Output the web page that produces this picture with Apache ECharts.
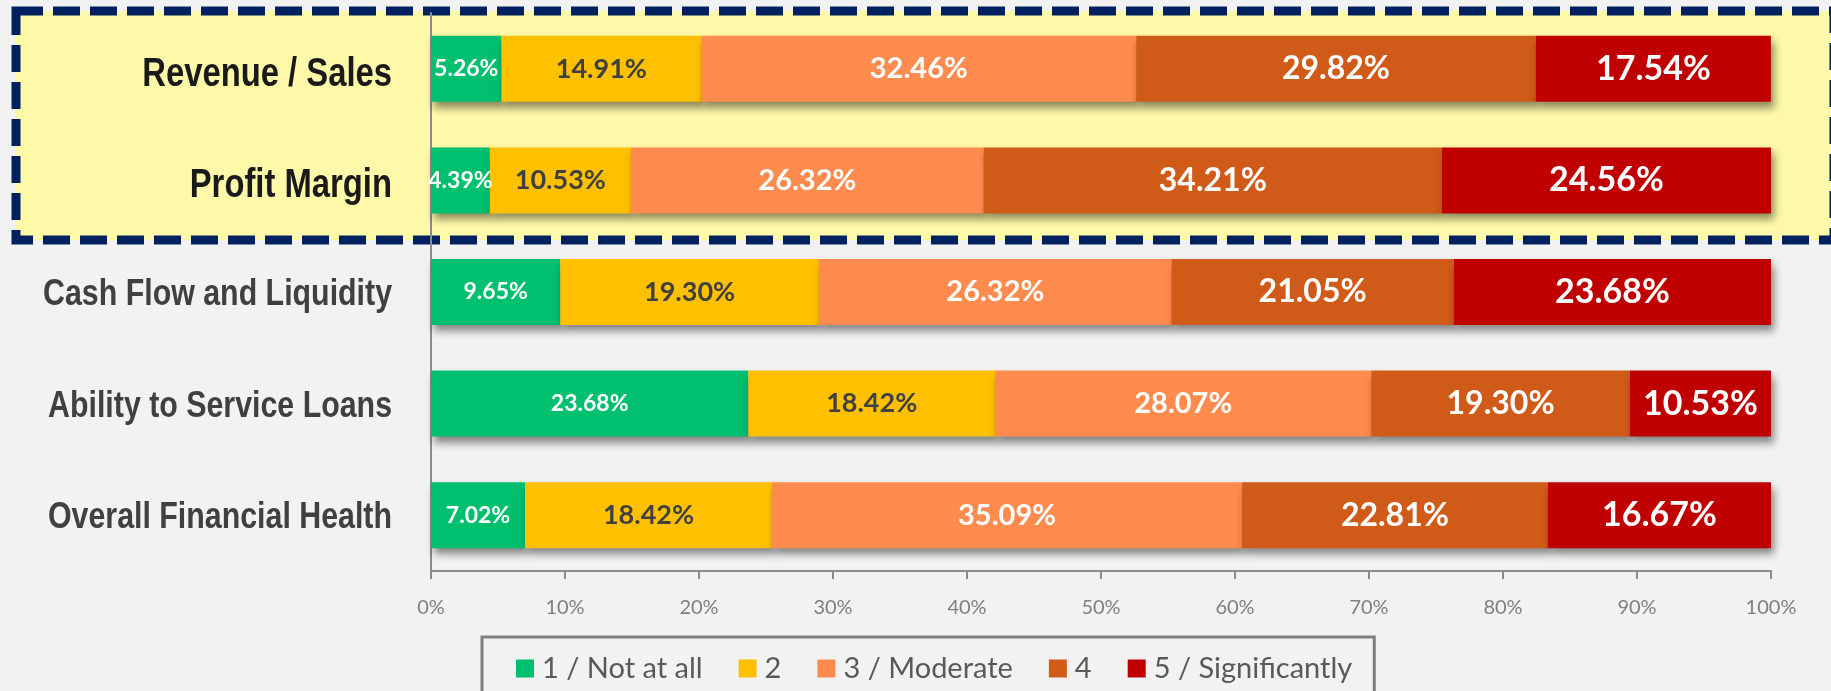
<!DOCTYPE html>
<html>
<head>
<meta charset="utf-8">
<script src="https://cdn.jsdelivr.net/npm/echarts@6/dist/echarts.min.js"></script>
<style>
  html, body { margin: 0; padding: 0; background: #f2f2f2; }
  #chart { width: 1831px; height: 691px; }
</style>
</head>
<body>
<div id="chart"></div>
<script>
// Impact ratings per area, % of respondents (stacked to 100%)
const categories = ['Revenue / Sales', 'Profit Margin', 'Cash Flow and Liquidity', 'Ability to Service Loans', 'Overall Financial Health'];
const seriesNames = ['1 / Not at all', '2', '3 / Moderate', '4', '5 / Significantly'];
const notAtAll      = [5.26, 4.39, 9.65, 23.68, 7.02];
const level2        = [14.91, 10.53, 19.30, 18.42, 18.42];
const moderate      = [32.46, 26.32, 26.32, 28.07, 35.09];
const level4        = [29.82, 34.21, 21.05, 19.30, 22.81];
const significantly = [17.54, 24.56, 23.68, 10.53, 16.67];
const xTickValues   = [0, 10, 20, 30, 40, 50, 60, 70, 80, 90, 100];

const COLORS = ['#00bf6f', '#ffc000', '#ff8b4e', '#d05a18', '#c00000'];
// label look per rating level: [font size, colour]
const LABEL_STYLE = [[23, '#ffffff'], [27, '#404040'], [29, '#ffffff'], [32, '#ffffff'], [34, '#ffffff']];
const BODY = 'Lato, "Liberation Sans", sans-serif';
const HIGHLIGHTED = 2;   // first two rows sit in the dashed highlight box

const chart = echarts.init(document.getElementById('chart'));

const values = [notAtAll, level2, moderate, level4, significantly];
const series = values.map((data, i) => ({
  name: seriesNames[i],
  type: 'bar',
  stack: 'total',
  barWidth: 66,
  data,
  itemStyle: {
    color: COLORS[i],
    shadowColor: 'rgba(0,0,0,0.45)',
    shadowBlur: 8,
    shadowOffsetX: 3,
    shadowOffsetY: 6,
  },
  label: {
    show: true,
    position: 'inside',
    formatter: (p) => p.value.toFixed(2) + '%',
    fontFamily: BODY,
    fontWeight: 'bold',
    fontSize: LABEL_STYLE[i][0],
    color: LABEL_STYLE[i][1],
  },
  emphasis: { disabled: true },
}));

const highlightBox = {
  type: 'rect',
  id: 'box',
  z: 0,
  shape: { x: 16, y: 11, width: 1818, height: 229 },
  style: { fill: '#fdf9a8', stroke: '#002060', lineWidth: 9, lineDash: [27, 10] },
};

chart.setOption({
  backgroundColor: '#f2f2f2',
  animation: false,
  graphic: [highlightBox],
  grid: { left: 431, right: 60, top: 13, bottom: 120, outerBoundsMode: 'none' },
  legend: {
    data: seriesNames,
    left: 482,
    top: 637,
    padding: [17, 22, 30, 34],
    itemWidth: 18,
    itemHeight: 18,
    itemGap: 36,
    icon: 'rect',
    borderColor: '#7f7f7f',
    borderWidth: 3,
    backgroundColor: '#f2f2f2',
    textStyle: { fontFamily: BODY, fontSize: 29, color: '#595959', padding: [0, 0, 0, 3] },
  },
  xAxis: {
    type: 'value',
    min: 0,
    max: 100,
    interval: 10,
    axisLine: { show: true, lineStyle: { color: '#8c8c8c', width: 2 } },
    axisTick: { show: true, length: 8, lineStyle: { color: '#8c8c8c', width: 2 } },
    splitLine: { show: false },
    axisLabel: {
      margin: 27,
      fontFamily: BODY,
      fontSize: 20,
      color: '#7f7f7f',
      formatter: (v) => xTickValues.includes(v) ? v + '%' : '',
    },
  },
  yAxis: {
    type: 'category',
    inverse: true,
    data: categories,
    axisLine: { lineStyle: { color: '#8c8c8c', width: 2 } },
    axisTick: { length: 10, lineStyle: { color: '#8c8c8c', width: 2 } },
    axisLabel: { show: false },
  },
  series,
});

// Category names in a narrow bold face: Liberation Sans Bold squeezed
// horizontally, anchored at each category's pixel row on the y axis.
const labelRight = 392;
const catLabels = categories.map((name, i) => ({
  type: 'text',
  z: 5,
  x: labelRight,
  y: chart.convertToPixel({ yAxisIndex: 0 }, name) + (i < HIGHLIGHTED ? 6 : 3),
  scaleX: 0.82,
  originX: 0,
  style: {
    text: name,
    x: 0, y: 0,
    align: 'right',
    verticalAlign: 'middle',
    font: i < HIGHLIGHTED ? 'bold 40px "Liberation Sans", Arial, sans-serif'
                          : 'bold 37px "Liberation Sans", Arial, sans-serif',
    fill: i < HIGHLIGHTED ? '#1a1a1a' : '#404040',
  },
}));
chart.setOption({ graphic: [highlightBox, ...catLabels] });
</script>
</body>
</html>
